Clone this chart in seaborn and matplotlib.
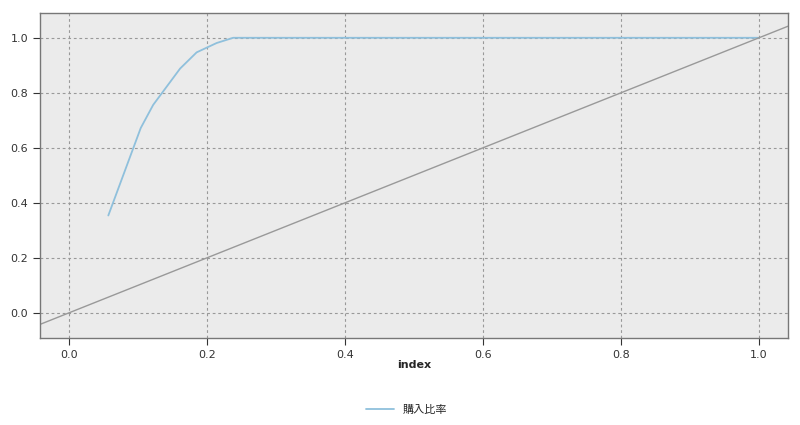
import numpy as np
import pandas as pd
import matplotlib
matplotlib.use("Agg")
import matplotlib.pyplot as plt
import seaborn as sns

# Cumulative gain curve
index_vals = [0.057, 0.104, 0.122, 0.161, 0.185, 0.214, 0.238, 1.0]
purchase_ratio = [0.354, 0.672, 0.756, 0.888, 0.947, 0.981, 1.0, 1.0]

# Diagonal baseline
base_x = [-0.042, 1.042]
base_y = [-0.042, 1.042]

sns.set_style("whitegrid")
plt.rcParams["font.family"] = ["DejaVu Sans", "Noto Sans CJK JP"]

fig = plt.figure(figsize=(8, 4.25), dpi=100)
ax = fig.add_axes([0.05, 0.205, 0.935, 0.765])

df = pd.DataFrame({"index": index_vals, "購入比率": purchase_ratio})
sns.lineplot(data=df, x="index", y="購入比率", ax=ax, color="#8fc0dc",
             linewidth=1.3, label="購入比率")
ax.plot(base_x, base_y, color="#999999", linewidth=1.0)

ax.set_facecolor("#ebebeb")
ax.set_xlim(-0.042, 1.042)
ax.set_ylim(-0.091, 1.091)
ax.set_xticks([0.0, 0.2, 0.4, 0.6, 0.8, 1.0])
ax.set_yticks([0.0, 0.2, 0.4, 0.6, 0.8, 1.0])
ax.xaxis.set_major_formatter(matplotlib.ticker.FormatStrFormatter("%.1f"))
ax.yaxis.set_major_formatter(matplotlib.ticker.FormatStrFormatter("%.1f"))
ax.grid(True, linestyle=(0, (2.5, 2.5)), color="#999999", linewidth=0.8)
for s in ax.spines.values():
    s.set_color("#777777")
    s.set_linewidth(1.0)
ax.tick_params(axis="both", labelsize=8, colors="#333333", length=5,
               width=0.8, direction="out", left=True, bottom=True)
ax.set_xlabel("index", fontsize=8, fontweight="bold", labelpad=0)
ax.set_ylabel("")

ax.legend(loc="upper center", bbox_to_anchor=(0.49, -0.175), frameon=False,
          handlelength=2.5, prop={"family": ["Noto Sans CJK JP"], "size": 8})

fig.savefig("out.png", dpi=100)
